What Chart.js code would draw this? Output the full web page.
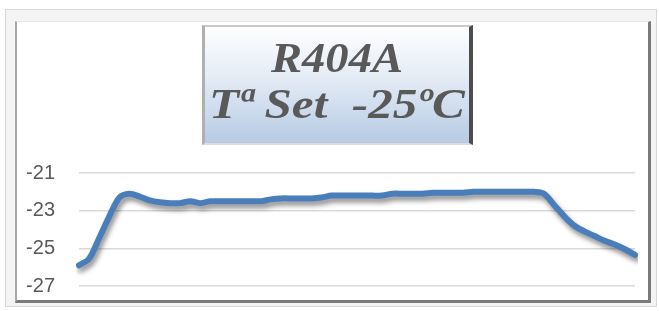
<!DOCTYPE html>
<html>
<head>
<meta charset="utf-8">
<script src="https://cdn.jsdelivr.net/npm/chart.js@4/dist/chart.umd.min.js"></script>
<style>
  html, body { margin: 0; padding: 0; background: #fff; }
  #wrap { position: relative; width: 659px; height: 311px; overflow: hidden; }
  #outer {
    position: absolute; left: 5px; top: 9px; width: 650px; height: 296px;
    border: 1px solid #d6d6d6; background: #f4f4f4;
  }
  #inner {
    position: absolute; left: 9px; top: 11px; right: 5px; bottom: 3px;
    background: #fff;
    border-top: 1px solid #e6e6e6;
    border-left: 2px solid #a8a8a8;
    border-right: 3px solid #7a7a7a;
    border-bottom: 3px solid #7a7a7a;
  }
  #chart { position: absolute; left: 0; top: 0; }
  #titleBox {
    position: absolute; left: 202px; top: 25px; width: 264px; height: 116px;
    background: linear-gradient(to bottom, #fefefe 0%, #e3ebf5 45%, #b6cbe4 100%);
    border-top: 2px solid #c9c9c9;
    border-left: 3px solid #b0b0b0;
    border-right: 4px solid #4d4d4d;
    border-bottom: 2px solid #dcdcdc;
    font-family: "Liberation Serif", "DejaVu Serif", serif;
    font-weight: bold; font-style: italic;
    color: #595959; text-align: center;
  }
  #titleBox div { font-size: 42px; line-height: 46px; white-space: pre; }
</style>
</head>
<body>
<div id="wrap">
  <div id="outer"><div id="inner"></div></div>
  <canvas id="chart" width="659" height="311"></canvas>
  <div id="titleBox">
    <div style="margin-top:8px; transform:scaleX(1.11)">R404A</div>
    <div style="transform:scaleX(1.17)">Tª Set  -25ºC</div>
  </div>
</div>
<script>
// temperature log, one reading per step
const temps = [
  -25.9, -25.55, -24.45, -23.3, -22.3, -22.1, -22.25, -22.45, -22.55, -22.6,
  -22.6, -22.5, -22.6, -22.5, -22.5, -22.5, -22.5, -22.5, -22.5, -22.4,
  -22.35, -22.35, -22.35, -22.35, -22.3, -22.2, -22.2, -22.2, -22.2, -22.2,
  -22.2, -22.1, -22.1, -22.1, -22.1, -22.05, -22.05, -22.05, -22.05, -22.0,
  -22.0, -22.0, -22.0, -22.0, -22.0, -22.0, -22.1, -22.7, -23.3, -23.8,
  -24.1, -24.35, -24.6, -24.8, -25.05, -25.35
];
const labels = temps.map((t, i) => String(i + 1));
const yTicks = [-27, -25, -23, -21];

// soft drop shadow under the line, like the spreadsheet look
const lineShadow = {
  id: "lineShadow",
  beforeDatasetsDraw(chart) {
    const ctx = chart.ctx;
    ctx.save();
    ctx.shadowColor = "rgba(0,0,0,0.45)";
    ctx.shadowBlur = 5;
    ctx.shadowOffsetX = 2;
    ctx.shadowOffsetY = 4;
  },
  afterDatasetsDraw(chart) {
    chart.ctx.restore();
  }
};

new Chart(document.getElementById("chart"), {
  type: "line",
  data: {
    labels: labels,
    datasets: [
      {
        label: "Temperatura",
        data: temps,
        borderColor: "#4a7ebb",
        borderWidth: 6,
        pointRadius: 0,
        fill: false,
        tension: 0.3,
        borderCapStyle: "round",
        borderJoinStyle: "round",
      },
    ],
  },
  options: {
    responsive: false,
    animation: false,
    layout: { padding: { left: 4, right: 24, top: 173, bottom: 25 } },
    plugins: {
      legend: { display: false },
      tooltip: { enabled: false },
    },
    scales: {
      x: { display: false },
      y: {
        min: -27,
        max: -21,
        afterFit: (scale) => {
          scale.width = 75;
          scale.paddingTop = 0;
          scale.paddingBottom = 0;
        },
        afterBuildTicks: (scale) => { scale.ticks = yTicks.map((v) => ({ value: v })); },
        border: { display: false },
        grid: { color: "#d9d9d9", lineWidth: 1.5, drawTicks: false },
        ticks: {
          padding: 24,
          color: "#595959",
          font: { family: "Liberation Sans", size: 20 },
        },
      },
    },
  },
  plugins: [lineShadow],
});
</script>
</body>
</html>
